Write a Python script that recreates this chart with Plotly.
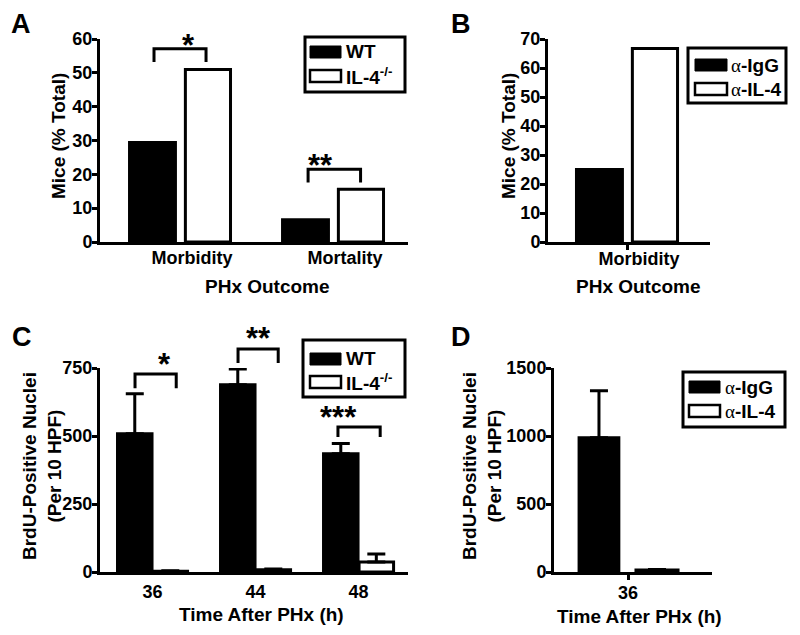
import plotly.graph_objects as go

W, H = 800, 635
FONT = "Liberation Sans"

# ---- data ----
outcomes = ["Morbidity", "Mortality"]
a_wt = [29.4, 6.6]
a_il4 = [51.0, 15.6]

b_outcomes = ["Morbidity"]
b_igg = [25.0]
b_anti = [66.7]

c_hours = ["36", "44", "48"]
c_wt = [508, 688, 435]
c_wt_sem = [147, 58, 37]
c_il4 = [3, 8, 37]
c_il4_sem = [2, 3, 29]

d_hours = ["36"]
d_igg = [988]
d_igg_sem = [344]
d_anti = [15]
d_anti_sem = [4]

ALPHA = "<span style=\"font-family:'Liberation Serif';font-weight:normal\">α</span>"
mouse_groups = ["WT", "IL-4<sup>-/-</sup>"]
antibody_groups = [ALPHA + "-IgG", ALPHA + "-IL-4"]

# significance labels per category
a_sig = ["*", "**"]
c_sig = ["*", "**", "***"]


def px_x(x):
    return x / W


def px_y(y):
    return 1 - y / H


# panel geometry (pixels) and axis ranges
panels = {
    "A": dict(ax="", xd=(100, 408), yd=(39, 242), xr=[-0.523, 1.49], yr=[0, 60], dt=10),
    "B": dict(ax="2", xd=(548, 710), yd=(39, 242), xr=[-0.516, 0.542], yr=[0, 70], dt=10),
    "C": dict(ax="3", xd=(100, 408), yd=(368, 572), xr=[-0.51, 2.48], yr=[0, 750], dt=250),
    "D": dict(ax="4", xd=(554, 712), yd=(368, 572), xr=[-0.484, 0.549], yr=[0, 1500], dt=500),
}

fig = go.Figure()


def add_bar(panel, vals, filled, offset, width, sem=None):
    p = panels[panel]
    err = None
    if sem is not None:
        err = dict(type="data", symmetric=False, array=sem, arrayminus=[0] * len(sem),
                   color="black", thickness=3, width=9)
    fig.add_trace(go.Bar(
        x=list(range(len(vals))), y=vals,
        xaxis="x" + p["ax"], yaxis="y" + p["ax"],
        offset=offset, width=width,
        marker=dict(color="black" if filled else "white", line=dict(color="black", width=3)),
        error_y=err, showlegend=False, hoverinfo="skip",
    ))


add_bar("A", a_wt, True, -0.33, 0.30)
add_bar("A", a_il4, False, 0.035, 0.295)
add_bar("B", b_igg, True, -0.33, 0.30)
add_bar("B", b_anti, False, 0.035, 0.295)
add_bar("C", c_wt, True, -0.34, 0.335, c_wt_sem)
add_bar("C", c_il4, False, 0.005, 0.335, c_il4_sem)
add_bar("D", d_igg, True, -0.32, 0.26, d_igg_sem)
add_bar("D", d_anti, False, 0.052, 0.275, d_anti_sem)

axis_common = dict(showline=True, linecolor="black", linewidth=3, showgrid=False, zeroline=False,
                   automargin=False, fixedrange=True,
                   tickfont=dict(family=FONT, size=18, color="black", weight="bold"))
# vertical nudge of the category labels
x_standoff = {"A": -3, "B": -7, "C": 1, "D": -3}
layout = {}
for name, p in panels.items():
    xa = "xaxis" + p["ax"]
    ya = "yaxis" + p["ax"]
    cats = {"A": outcomes, "B": b_outcomes, "C": c_hours, "D": d_hours}[name]
    ticked = name in ("B", "D")
    layout[xa] = dict(axis_common, domain=[px_x(p["xd"][0]), px_x(p["xd"][1])], range=p["xr"],
                      anchor="y" + p["ax"], tickvals=list(range(len(cats))), ticktext=cats,
                      ticks="outside" if ticked else "", ticklen=5, tickwidth=3,
                      tickcolor="black", ticklabelshift=12 if name in ("A", "B") else 0,
                      ticklabelstandoff=x_standoff[name])
    layout[ya] = dict(axis_common, domain=[px_y(p["yd"][1]), px_y(p["yd"][0])], range=p["yr"],
                      anchor="x" + p["ax"], dtick=p["dt"], tick0=0, ticks="outside", ticklen=5,
                      tickwidth=3, tickcolor="black", ticklabelstandoff=-4)

shapes = []
annotations = []


def dom(p, x, y):
    fx = (x - p["xr"][0]) / (p["xr"][1] - p["xr"][0])
    fy = (y - p["yr"][0]) / (p["yr"][1] - p["yr"][0])
    return fx, fy


def bracket(panel, x0, x1, ytop, yleg, label, sx, sy):
    p = panels[panel]
    ax = "x" + p["ax"] + " domain"
    ay = "y" + p["ax"] + " domain"
    a, l = dom(p, x0, yleg)
    b, t = dom(p, x1, ytop)
    shapes.append(dict(type="path", xref=ax, yref=ay,
                       path=f"M{a},{l} L{a},{t} L{b},{t} L{b},{l}",
                       line=dict(color="black", width=3)))
    fx, fy = dom(p, sx, sy)
    annotations.append(dict(x=fx, y=fy, xref=ax, yref=ay, text=label,
                            showarrow=False, yanchor="middle", yshift=-7,
                            font=dict(family=FONT, size=31, color="black", weight="bold")))


# panel A brackets
bracket("A", -0.17, 0.17, 57.1, 53.2, a_sig[0], 0.0, 60.0)
bracket("A", 0.837, 1.18, 21.5, 17.6, a_sig[1], 1.013, 24.7)
# panel C brackets
bracket("C", -0.17, 0.23, 728, 676, c_sig[0], 0.035, 790)
bracket("C", 0.83, 1.22, 820, 768, c_sig[1], 1.025, 884)
bracket("C", 1.8, 2.21, 533, 496, c_sig[2], 2.0, 592)


def legend(box, sw_x, rows, text_x, names):
    x0, y0, x1, y1 = box
    shapes.append(dict(type="rect", xref="paper", yref="paper", x0=px_x(x0), x1=px_x(x1),
                       y0=px_y(y1), y1=px_y(y0), line=dict(color="black", width=3),
                       fillcolor="white"))
    for i, (yc, name) in enumerate(zip(rows, names)):
        filled = i == 0
        shapes.append(dict(type="rect", xref="paper", yref="paper",
                           x0=px_x(sw_x[0]), x1=px_x(sw_x[1]),
                           y0=px_y(yc + 6), y1=px_y(yc - 6),
                           fillcolor="black" if filled else "white",
                           line=dict(color="black", width=1 if filled else 2.5)))
        annotations.append(dict(x=px_x(text_x), y=px_y(yc), xref="paper", yref="paper",
                                text=name, showarrow=False, xanchor="left", yanchor="middle",
                                font=dict(family=FONT, size=19, color="black", weight="bold")))


legend((305, 37, 405, 92), (310, 341), (52, 76), 344, mouse_groups)
legend((688, 48, 786, 103), (695, 727), (65, 89), 729, antibody_groups)
legend((303, 340, 405, 397), (310, 341), (359, 382), 344, mouse_groups)
legend((683, 372, 785, 427), (689, 720), (387, 411), 723, antibody_groups)


def text(x, y, s, size=19, angle=0):
    annotations.append(dict(x=px_x(x), y=px_y(y), xref="paper", yref="paper", text=s,
                            showarrow=False, textangle=angle, xanchor="center", yanchor="middle",
                            font=dict(family=FONT, size=size, color="black", weight="bold")))


# panel letters
text(21, 24, "A", 27)
text(461, 24, "B", 27)
text(22, 337, "C", 27)
text(461, 337, "D", 27)
# axis titles
text(58, 136, "Mice (% Total)", angle=-90)
text(508, 136, "Mice (% Total)", angle=-90)
text(42, 466, "BrdU-Positive Nuclei<br>(Per 10 HPF)", angle=-90)
text(482, 466, "BrdU-Positive Nuclei<br>(Per 10 HPF)", angle=-90)
text(267, 286, "PHx Outcome")
text(638, 286, "PHx Outcome")
text(261, 614, "Time After PHx (h)")
text(639, 616, "Time After PHx (h)")

fig.update_layout(
    template="none",
    width=W, height=H, margin=dict(l=0, r=0, t=0, b=0, pad=0),
    paper_bgcolor="white", plot_bgcolor="white",
    barmode="overlay", showlegend=False,
    font=dict(family=FONT, color="black"),
    shapes=shapes, annotations=annotations, **layout,
)

# drop the page's default body margin so the figure sits at the window's corner
fig.write_html("out.html", config={"displayModeBar": False},
               post_script="document.body.style.margin='0';")
